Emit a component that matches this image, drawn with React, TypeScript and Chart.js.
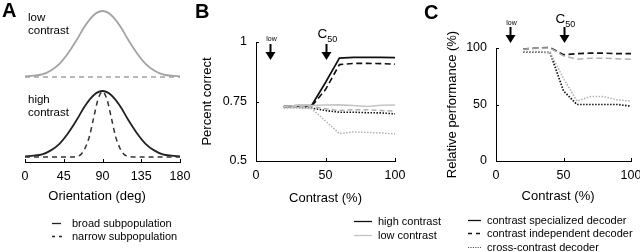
import React, { useEffect, useRef } from "react";
import { Chart, registerables } from "chart.js";

Chart.register(...registerables);

const FONT = '"Liberation Sans", Arial, Helvetica, sans-serif';

// ---------- Panel A: tuning curves ----------
const orientationTicks = [0, 45, 90, 135, 180];
const broadAngles = [0, 10, 20, 30, 40, 50, 60, 70, 80, 90, 100, 110, 120, 130, 140, 150, 160, 170, 180];
const lowBroadValues = [0.01, 0.02, 0.04, 0.1, 0.2, 0.36, 0.56, 0.78, 0.94, 1, 0.94, 0.78, 0.56, 0.36, 0.2, 0.1, 0.04, 0.02, 0.01];
const lowNarrowAngles = [0, 180];
const lowNarrowValues = [0, 0];
const highBroadValues = [0.01, 0.02, 0.04, 0.1, 0.2, 0.36, 0.56, 0.78, 0.94, 1, 0.94, 0.78, 0.56, 0.36, 0.2, 0.1, 0.04, 0.02, 0.01];
const narrowAngles = [0, 20, 40, 50, 55, 60, 65, 70, 75, 80, 85, 90, 95, 100, 105, 110, 115, 120, 125, 130, 140, 160, 180];
const highNarrowValues = [0, 0, 0, 0, 0, 0.01, 0.04, 0.14, 0.32, 0.61, 0.88, 0.99, 0.88, 0.61, 0.32, 0.14, 0.04, 0.01, 0, 0, 0, 0, 0];

// ---------- Panel B: percent correct ----------
const contrastTicks = [0, 50, 100];
const contrasts = [20, 30, 40, 50, 60, 70, 80, 90, 100];
const percentTicks = [0.5, 0.75, 1];
const highSpecialized = [0.73, 0.733, 0.733, 0.83, 0.932, 0.935, 0.936, 0.935, 0.934];
const highIndependent = [0.728, 0.73, 0.73, 0.8, 0.905, 0.91, 0.91, 0.909, 0.907];
const highCross = [0.725, 0.725, 0.722, 0.712, 0.705, 0.705, 0.703, 0.702, 0.698];
const lowSpecialized = [0.73, 0.733, 0.733, 0.735, 0.736, 0.733, 0.729, 0.734, 0.735];
const lowIndependent = [0.728, 0.73, 0.728, 0.72, 0.712, 0.716, 0.715, 0.712, 0.71];
const lowCross = [0.725, 0.725, 0.72, 0.668, 0.615, 0.622, 0.62, 0.618, 0.614];

// ---------- Panel C: relative performance ----------
const relativeTicks = [0, 50, 100];
const relHighIndependent = [99, 100, 100.5, 94, 95, 95.5, 95.5, 95, 95];
const relLowIndependent = [99, 100, 100, 93, 90, 91, 91, 90.5, 90];
const relHighCross = [96.5, 96.5, 96, 62, 50, 50, 50, 50, 48.5];
const relLowCross = [97, 97, 96, 73, 53, 57, 57, 54, 53];

const BLACK = "#111";
const GRAY_A = "#a3a3a3";
const GRAY_SOLID = "#c4c4c4";
const GRAY_LINE = "#b0b0b0";

const pts = (xs: number[], ys: number[]) => xs.map((x, i) => ({ x, y: ys[i] }));

const tickFont = { family: FONT, size: 12.5 };
const titleFont = { family: FONT, size: 13 };

function linearX(min: number, max: number, vals: number[], title: string, titleBottom: number) {
  return {
    type: "linear",
    position: "bottom",
    min,
    max,
    afterBuildTicks: (s: any) => {
      s.ticks = vals.map((v) => ({ value: v }));
    },
    afterFit: (s: any) => {
      s.height = 45;
      s.paddingLeft = 0;
      s.paddingRight = 0;
    },
    grid: { display: false, drawTicks: false },
    border: { display: true, color: "#000", width: 1 },
    ticks: {
      padding: 7,
      color: "#000",
      font: tickFont,
      maxRotation: 0,
      autoSkip: false,
      callback: (v: any) => String(v),
    },
    title: {
      display: true,
      text: title,
      color: "#000",
      font: titleFont,
      padding: { top: 0, bottom: titleBottom },
    },
  };
}

function linearY(min: number, max: number, vals: number[], title: string, width: number, titleTop: number) {
  return {
    type: "linear",
    position: "left",
    min,
    max,
    afterBuildTicks: (s: any) => {
      s.ticks = vals.map((v) => ({ value: v }));
    },
    afterFit: (s: any) => {
      s.width = width;
      s.paddingTop = 0;
      s.paddingBottom = 0;
    },
    grid: { display: false, drawTicks: false },
    border: { display: true, color: "#000", width: 1 },
    ticks: {
      padding: 9,
      color: "#000",
      font: tickFont,
      autoSkip: false,
      callback: (v: any) => String(v),
    },
    title: {
      display: true,
      text: title,
      color: "#000",
      font: titleFont,
      padding: { top: titleTop, bottom: 0 },
    },
  };
}

const innerTicksPlugin = {
  id: "innerTicks",
  afterDraw(chart: any) {
    const { ctx, chartArea } = chart;
    const len = 3;
    ctx.save();
    ctx.strokeStyle = "#000";
    ctx.lineWidth = 1;
    ctx.beginPath();
    const xs = chart.scales.x;
    if (xs && xs.options.display) {
      for (const t of xs.ticks) {
        const p = Math.round(xs.getPixelForValue(t.value)) + 0.5;
        ctx.moveTo(p, chartArea.bottom);
        ctx.lineTo(p, chartArea.bottom - len);
      }
    }
    const ys = chart.scales.y;
    if (ys && ys.options.display) {
      for (const t of ys.ticks) {
        const p = Math.round(ys.getPixelForValue(t.value)) + 0.5;
        ctx.moveTo(chartArea.left, p);
        ctx.lineTo(chartArea.left + len, p);
      }
    }
    ctx.stroke();
    ctx.restore();
  },
};

type ArrowItem = { value: number; top: number; tip: number; kind: "low" | "c50"; textBase: number };

const arrowPlugin = {
  id: "arrows",
  afterDraw(chart: any, _args: any, opts: any) {
    const items: ArrowItem[] = (opts && opts.items) || [];
    const { ctx } = chart;
    const xs = chart.scales.x;
    ctx.save();
    ctx.fillStyle = "#000";
    ctx.strokeStyle = "#000";
    for (const a of items) {
      const x = Math.round(xs.getPixelForValue(a.value)) + 0.5;
      ctx.lineWidth = 2;
      ctx.beginPath();
      ctx.moveTo(x, a.top);
      ctx.lineTo(x, a.tip - 6);
      ctx.stroke();
      ctx.beginPath();
      ctx.moveTo(x - 5, a.tip - 8);
      ctx.lineTo(x + 5, a.tip - 8);
      ctx.lineTo(x, a.tip);
      ctx.closePath();
      ctx.fill();
      ctx.textBaseline = "alphabetic";
      if (a.kind === "low") {
        ctx.font = `7px ${FONT}`;
        ctx.textAlign = "center";
        ctx.fillText("low", x + 1, a.textBase);
      } else {
        ctx.font = `13.5px ${FONT}`;
        const wC = ctx.measureText("C").width;
        ctx.font = `9px ${FONT}`;
        const wS = ctx.measureText("50").width;
        const start = x - (wC + wS) / 2 + 1;
        ctx.textAlign = "left";
        ctx.font = `13.5px ${FONT}`;
        ctx.fillText("C", start, a.textBase);
        ctx.font = `9px ${FONT}`;
        ctx.fillText("50", start + wC, a.textBase + 3.5);
      }
    }
    ctx.restore();
  },
};

function lineDs(data: any[], color: string, dash: number[], width = 1.5, smooth = false) {
  return {
    data,
    borderColor: color,
    backgroundColor: color,
    borderWidth: width,
    borderDash: dash,
    pointRadius: 0,
    fill: false,
    clip: false,
    tension: 0,
    cubicInterpolationMode: smooth ? "monotone" : "default",
  };
}

function baseOptions(padding: any) {
  return {
    responsive: false,
    animation: false,
    devicePixelRatio: 1,
    layout: { padding },
    plugins: { legend: { display: false }, tooltip: { enabled: false } },
    events: [],
  };
}

const configATop = () => ({
  type: "line",
  data: {
    datasets: [
      lineDs(pts(lowNarrowAngles, lowNarrowValues), GRAY_A, [5, 4], 1.5),
      lineDs(pts(broadAngles, lowBroadValues), GRAY_A, [], 1.8, true),
    ],
  },
  options: {
    ...baseOptions({ left: 25, right: 10, top: 11, bottom: 8 }),
    scales: {
      x: { type: "linear", min: 0, max: 180, display: false },
      y: { type: "linear", min: 0, max: 1, display: false },
    },
  },
});

const configABottom = () => ({
  type: "line",
  data: {
    datasets: [
      lineDs(pts(narrowAngles, highNarrowValues), "#333", [5, 4], 1.5, true),
      lineDs(pts(broadAngles, highBroadValues), "#222", [], 1.8, true),
    ],
  },
  options: {
    ...baseOptions({ left: 25, right: 10, top: 6, bottom: 45 }),
    scales: {
      x: linearX(0, 180, orientationTicks, "Orientation (deg)   ", 3.2),
      y: { type: "linear", min: -0.076, max: 1, display: false },
    },
  },
  plugins: [innerTicksPlugin],
});

const configB = () => ({
  type: "line",
  data: {
    datasets: [
      lineDs(pts(contrasts, lowSpecialized), GRAY_SOLID, [], 1.6),
      lineDs(pts(contrasts, lowIndependent), GRAY_LINE, [5, 3], 1.5),
      lineDs(pts(contrasts, lowCross), GRAY_LINE, [1.5, 1.5], 1.5),
      lineDs(pts(contrasts, highCross), BLACK, [1.5, 1.5], 1.6),
      lineDs(pts(contrasts, highIndependent), BLACK, [6, 3.5], 1.6),
      lineDs(pts(contrasts, highSpecialized), BLACK, [], 1.7),
    ],
  },
  options: {
    ...baseOptions({ left: 0, right: 15, top: 42, bottom: 46 }),
    plugins: {
      legend: { display: false },
      tooltip: { enabled: false },
      arrows: {
        items: [
          { value: 10, top: 44, tip: 60, kind: "low", textBase: 41 },
          { value: 50, top: 44, tip: 60, kind: "c50", textBase: 38 },
        ],
      },
    },
    scales: {
      x: linearX(0, 100, contrastTicks, "Contrast (%)", 0.2),
      y: linearY(0.5, 1, percentTicks, "Percent correct", 71, 15),
    },
  },
  plugins: [innerTicksPlugin, arrowPlugin],
});

const configC = () => ({
  type: "line",
  data: {
    datasets: [
      lineDs(pts(contrasts, relLowCross), GRAY_LINE, [1.5, 1.5], 1.5),
      lineDs(pts(contrasts, relLowIndependent), GRAY_LINE, [6, 3.5], 1.5),
      lineDs(pts(contrasts, relHighCross), BLACK, [1.5, 1.5], 1.7),
      lineDs(pts(contrasts, relHighIndependent), BLACK, [6, 3.5], 1.6),
    ],
  },
  options: {
    ...baseOptions({ left: 0, right: 9, top: 48, bottom: 46 }),
    plugins: {
      legend: { display: false },
      tooltip: { enabled: false },
      arrows: {
        items: [
          { value: 10, top: 27, tip: 43, kind: "low", textBase: 25 },
          { value: 50, top: 27, tip: 43, kind: "c50", textBase: 23 },
        ],
      },
    },
    scales: {
      x: linearX(0, 100, contrastTicks, "Contrast (%)   ", 2.2),
      y: linearY(0, 100, relativeTicks, "Relative performance (%)", 96, 45),
    },
  },
  plugins: [innerTicksPlugin, arrowPlugin],
});

type PanelProps = { left: number; top: number; width: number; height: number; make: () => any };

function ChartPanel({ left, top, width, height, make }: PanelProps) {
  const ref = useRef<HTMLCanvasElement | null>(null);
  useEffect(() => {
    if (!ref.current) return;
    const chart = new Chart(ref.current, make());
    return () => chart.destroy();
  }, []);
  return (
    <canvas
      ref={ref}
      width={width}
      height={height}
      style={{ position: "absolute", left, top, width, height }}
    />
  );
}

function Label({ x, cy, text, size = 11, bold = false, lh = 13 }: { x: number; cy: number; text: string; size?: number; bold?: boolean; lh?: number }) {
  return (
    <div
      style={{
        position: "absolute",
        left: x,
        top: cy - lh / 2,
        lineHeight: `${lh}px`,
        fontSize: size,
        fontWeight: bold ? 700 : 400,
        whiteSpace: "nowrap",
        color: "#000",
      }}
    >
      {text}
    </div>
  );
}

export default function App() {
  return (
    <div
      style={{
        position: "fixed",
        left: 0,
        top: 0,
        width: 640,
        height: 252,
        background: "#fff",
        overflow: "hidden",
        fontFamily: FONT,
      }}
    >
      <ChartPanel left={0} top={0} width={190} height={85} make={configATop} />
      <ChartPanel left={0} top={85} width={190} height={167} make={configABottom} />
      <ChartPanel left={185} top={0} width={225} height={252} make={configB} />
      <ChartPanel left={400} top={0} width={240} height={252} make={configC} />

      <Label x={2} cy={10} text="A" size={20} bold lh={22} />
      <Label x={195} cy={11} text="B" size={20} bold lh={22} />
      <Label x={424} cy={12} text="C" size={20} bold lh={22} />

      <Label x={28} cy={17} text="low" size={11.5} />
      <Label x={28} cy={30} text="contrast" size={11.5} />
      <Label x={28} cy={99} text="high" size={11.5} />
      <Label x={28} cy={112} text="contrast" size={11.5} />

      <Label x={72} cy={223} text="broad subpopulation" />
      <Label x={72} cy={236} text="narrow subpopulation" />

      <Label x={378} cy={221} text="high contrast" />
      <Label x={378} cy={235} text="low contrast" />

      <Label x={487} cy={220} text="contrast specialized decoder" />
      <Label x={487} cy={233} text="contrast independent decoder" />
      <Label x={487} cy={247} text="cross-contrast decoder" />

      <svg
        width={640}
        height={252}
        style={{ position: "absolute", left: 0, top: 0, pointerEvents: "none" }}
      >
        <line x1={52} x2={61} y1={223.5} y2={223.5} stroke="#222" strokeWidth={1.3} />
        <line x1={52} x2={62} y1={236.5} y2={236.5} stroke="#222" strokeWidth={1.3} strokeDasharray="3 4" />
        <line x1={354} x2={372} y1={221.5} y2={221.5} stroke="#111" strokeWidth={1.3} />
        <line x1={354} x2={372} y1={235.5} y2={235.5} stroke={GRAY_SOLID} strokeWidth={1.3} />
        <line x1={468} x2={481} y1={220.5} y2={220.5} stroke="#111" strokeWidth={1.3} />
        <line x1={468} x2={482} y1={233.5} y2={233.5} stroke="#111" strokeWidth={1.3} strokeDasharray="4 4" />
        <line x1={468} x2={481} y1={247.5} y2={247.5} stroke="#555" strokeWidth={1} strokeDasharray="1.2 1.2" />
      </svg>
    </div>
  );
}
